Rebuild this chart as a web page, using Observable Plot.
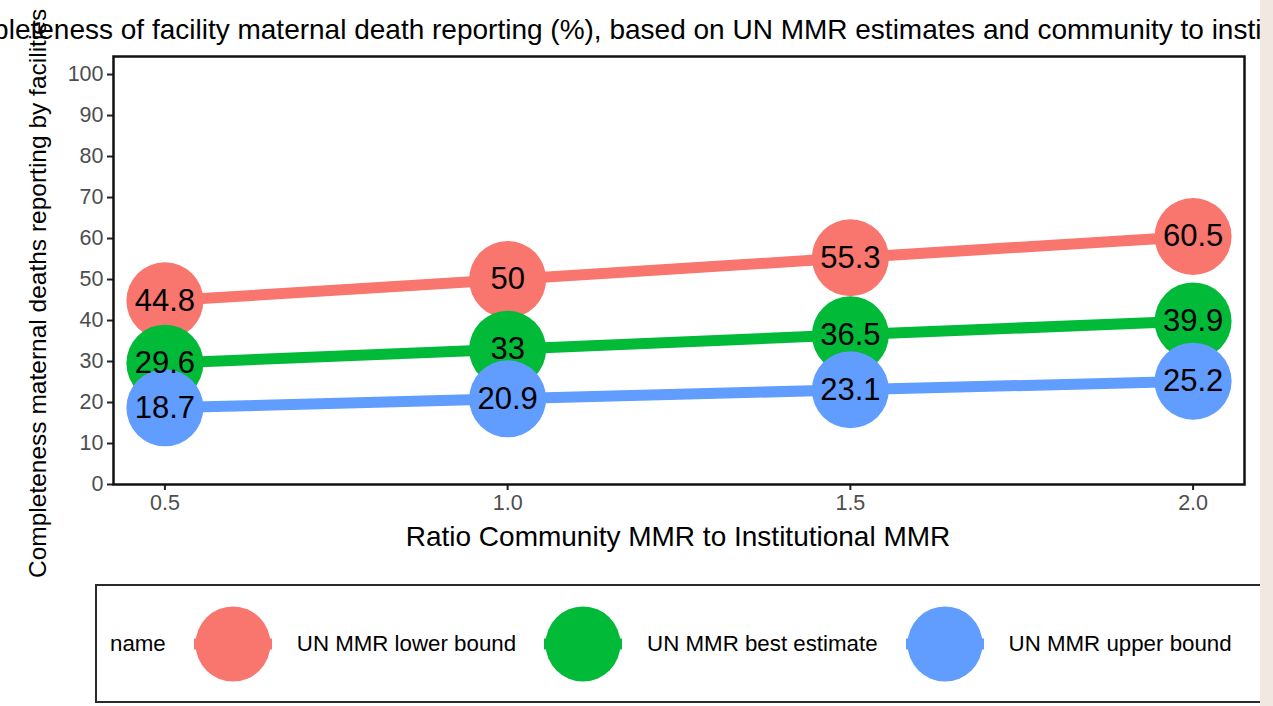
<!DOCTYPE html>
<html>
<head>
<meta charset="utf-8">
<script src="https://cdn.jsdelivr.net/npm/d3@7"></script>
<script src="https://cdn.jsdelivr.net/npm/@observablehq/plot@0.6"></script>
<style>
  html, body { margin: 0; padding: 0; background: #fff; }
  #wrap { position: relative; width: 1273px; height: 706px; overflow: hidden; background: #fff;
          font-family: "Liberation Sans", Arial, Helvetica, sans-serif; color: #000; }
  #chart { position: absolute; left: 0; top: 0; }
  .abs { position: absolute; white-space: nowrap; line-height: 1; }
  #title { left: -66px; top: 16px; font-size: 28px; }
  #ylabel { left: 26px; top: 578px; font-size: 24.5px; transform: rotate(-90deg); transform-origin: 0 0; }
  #xlabel { left: 678px; top: 537px; font-size: 28px; transform: translate(-50%, -50%); }
  #legend { position: absolute; left: 95px; top: 584px; width: 1190px; height: 115px;
            border: 2px solid #2b2b2b; display: flex; align-items: center; box-sizing: content-box;
            font-size: 22.3px; }
  #legend .name { margin-left: 13px; }
  #legend svg { margin-left: 28px; margin-right: 25px; display: block; }
  #strip { position: absolute; left: 1260px; top: 0; width: 13px; height: 706px; background: #f1e9e1; }
</style>
</head>
<body>
<div id="wrap">
  <div id="chart"></div>
  <div id="title" class="abs"></div>
  <div id="ylabel" class="abs"></div>
  <div id="xlabel" class="abs"></div>
  <div id="legend"></div>
  <div id="strip"></div>
</div>
<script>
// ---- data ----
const ratios = [0.5, 1.0, 1.5, 2.0];
const names = ["UN MMR lower bound", "UN MMR best estimate", "UN MMR upper bound"];
const lowerBound = [44.8, 50, 55.3, 60.5];
const bestEstimate = [29.6, 33, 36.5, 39.9];
const upperBound = [18.7, 20.9, 23.1, 25.2];
const colors = ["#F8766D", "#00BA38", "#619CFF"];
const xTicks = [0.5, 1.0, 1.5, 2.0];
const yTicks = [0, 10, 20, 30, 40, 50, 60, 70, 80, 90, 100];
const titleText = "Completeness of facility maternal death reporting (%), based on UN MMR estimates and community to institutional MMR ratio";
const xLabelText = "Ratio Community MMR to Institutional MMR";
const yLabelText = "Completeness maternal deaths reporting by facilities";
const legendTitle = "name";

const seriesValues = [lowerBound, bestEstimate, upperBound];
const data = [];
names.forEach((n, i) => ratios.forEach((r, j) => data.push({ name: n, ratio: r, value: seriesValues[i][j] })));

const font = '"Liberation Sans", Arial, Helvetica, sans-serif';

const chart = Plot.plot({
  width: 1273,
  height: 560,
  marginTop: 56,
  marginBottom: 76,
  marginLeft: 113,
  marginRight: 29,
  style: { fontFamily: font, background: "transparent", overflow: "visible" },
  x: { domain: [0.425, 2.075] },
  y: { domain: [0, 104.4] },
  color: { domain: names, range: colors },
  marks: [
    Plot.axisY(yTicks, { tickSize: 6, tickPadding: 4, fontSize: 21.5, fill: "#4d4d4d", stroke: "#222", strokeWidth: 2, label: null }),
    Plot.axisX(xTicks, { tickSize: 6, tickPadding: 4, fontSize: 21.5, fill: "#4d4d4d", stroke: "#222", strokeWidth: 2, tickFormat: d3.format(".1f"), label: null }),
    Plot.line(data, { x: "ratio", y: "value", z: "name", stroke: "name", strokeWidth: 11 }),
    Plot.dot(data, { x: "ratio", y: "value", r: 38.5, fill: "name", stroke: null }),
    Plot.text(data, { x: "ratio", y: "value", text: d => String(d.value), fontSize: 31, fill: "#000" }),
    Plot.frame({ stroke: "#111", strokeWidth: 2.5 })
  ]
});
document.getElementById("chart").appendChild(chart);

document.getElementById("title").textContent = titleText;
document.getElementById("xlabel").textContent = xLabelText;
document.getElementById("ylabel").textContent = yLabelText;

// ---- legend ----
const legend = d3.select("#legend");
legend.append("span").attr("class", "name").text(legendTitle);
names.forEach((n, i) => {
  const svg = legend.append("svg").attr("width", 78).attr("height", 78);
  svg.append("line").attr("x1", 0).attr("x2", 78).attr("y1", 39).attr("y2", 39)
     .attr("stroke", colors[i]).attr("stroke-width", 11);
  svg.append("circle").attr("cx", 39).attr("cy", 39).attr("r", 37.5).attr("fill", colors[i]);
  legend.append("span").text(n);
});
</script>
</body>
</html>
